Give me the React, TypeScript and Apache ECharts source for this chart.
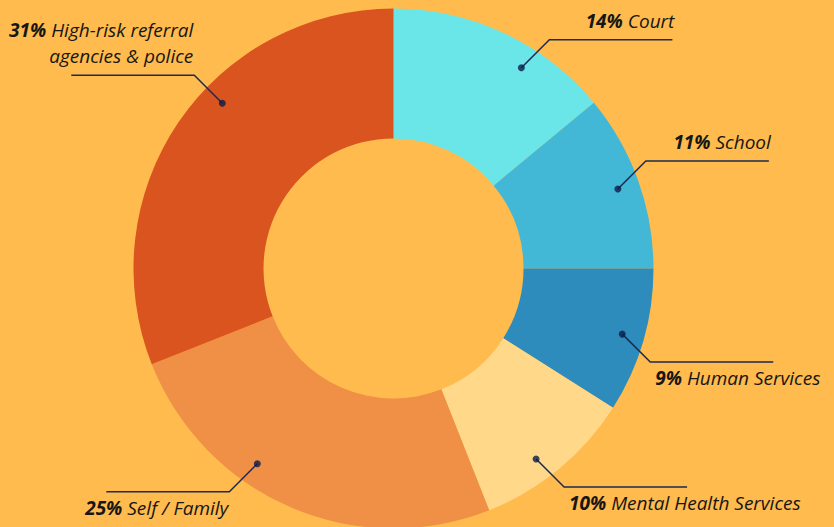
import React, { useEffect, useRef } from "react";
import * as echarts from "echarts";

// ---- data ----
const categories = [
  "Court",
  "School",
  "Human Services",
  "Mental Health Services",
  "Self / Family",
  "High-risk referral\nagencies & police",
];
const shares = [14, 11, 9, 10, 25, 31];
const colors = ["#6AE6E9", "#42B7D6", "#2E8CBD", "#FFD88A", "#F09046", "#DA541F"];

// ---- layout (annotation placement, not data) ----
const pointerNudgeDeg = [7.3, 0.3, -0.2, 2.8, 11.5, 9.8]; // shift of pointer dot from slice mid
const pointerRadius = 238;
// direction of the leader: dx sign, dy sign ; label side ; align at "end"/"bend"
const leaderDir = [
  [1, -1, "above", "end"],
  [1, -1, "above", "end"],
  [1, 1, "below", "bend"],
  [1, 1, "below", "bend"],
  [-1, 1, "below", "bend"],
  [-1, -1, "above", "bend"],
];

const CX = 393.5;
const CY = 268.5;
const R_IN = 130;
const R_OUT = 260;
const DIAG = 28;
const HORIZ = 123;
const LINE_H = 26;

function pointerAngle(i: number) {
  const total = shares.reduce((a, b) => a + b, 0);
  let cum = 0;
  for (let k = 0; k < i; k++) cum += shares[k];
  return ((cum + shares[i] / 2) / total) * 360 + pointerNudgeDeg[i];
}

function pointerXY(i: number) {
  const a = (pointerAngle(i) * Math.PI) / 180;
  return [CX + pointerRadius * Math.sin(a), CY - pointerRadius * Math.cos(a)];
}

export default function App() {
  const ref = useRef<HTMLDivElement>(null);
  useEffect(() => {
    document.body.style.margin = "0";
    const chart = echarts.init(ref.current!, null, { renderer: "svg" });
    const font = "'Open Sans', Lato, sans-serif";
    const pieData = categories.map((c, i) => ({
      name: c,
      value: shares[i],
      itemStyle: { color: colors[i] },
    }));
    chart.setOption({
      animation: false,
      backgroundColor: "#FFBB4D",
      polar: { center: [CX, CY], radius: R_OUT },
      angleAxis: {
        type: "value",
        min: 0,
        max: 360,
        startAngle: 90,
        clockwise: true,
        show: false,
      },
      radiusAxis: { type: "value", min: 0, max: R_OUT, show: false },
      series: [
        {
          type: "pie",
          center: [CX, CY],
          radius: [R_IN, R_OUT],
          startAngle: 90,
          clockwise: true,
          silent: true,
          z: 2,
          data: pieData,
          label: { show: false },
          labelLine: { show: false },
        },
        {
          type: "pie",
          center: [CX, CY],
          radius: [R_IN, R_OUT],
          startAngle: 90,
          clockwise: true,
          silent: true,
          z: 4,
          data: pieData.map((d) => ({
            ...d,
            itemStyle: { color: "rgba(0,0,0,0)" },
          })),
          label: {
            show: true,
            position: "outside",
            overflow: "none",
            fontFamily: font,
            fontSize: 19,
            color: "#161616",
            lineHeight: LINE_H,
            formatter: (p: any) => {
              const lines = String(p.name).split("\n");
              const first = `{p|${p.value}%} {n|${lines[0]}}`;
              const rest = lines.slice(1).map((l) => `{n|${l}}`);
              return [first, ...rest].join("\n");
            },
            rich: {
              p: {
                fontFamily: font,
                fontSize: 19,
                fontWeight: "bold",
                fontStyle: "italic",
                color: "#161616",
                lineHeight: LINE_H,
              },
              n: {
                fontFamily: font,
                fontSize: 19,
                fontStyle: "italic",
                color: "#161616",
                lineHeight: LINE_H,
              },
            },
          },
          labelLine: {
            show: true,
            minTurnAngle: 0,
            maxSurfaceAngle: 180,
            lineStyle: { color: "#1B2A4E", width: 1.5 },
          },
          labelLayout: (params: any) => {
            const i = params.dataIndex;
            const [dx, dy, side, anchor] = leaderDir[i] as [number, number, string, string];
            const [px, py] = pointerXY(i);
            const bx = px + dx * DIAG;
            const by = py + dy * DIAG;
            const ex = bx + dx * HORIZ;
            const ey = by;
            let x: number;
            let align: string;
            if (anchor === "end") {
              x = ex + 2;
              align = dx > 0 ? "right" : "left";
            } else {
              x = dx > 0 ? bx + 5 : bx - 1;
              align = dx > 0 ? "left" : "right";
            }
            const y = side === "above" ? by - 6 : by + 3;
            return {
              x,
              y,
              align,
              verticalAlign: side === "above" ? "bottom" : "top",
              labelLinePoints: [
                [px, py],
                [bx, by],
                [ex, ey],
              ],
              hideOverlap: false,
            };
          },
        },
        {
          type: "scatter",
          coordinateSystem: "polar",
          silent: true,
          z: 5,
          symbol: "circle",
          symbolSize: 7,
          itemStyle: { color: "#0B1D4B" },
          data: shares.map((_, i) => [pointerRadius, pointerAngle(i)]),
        },
      ],
    });
    return () => chart.dispose();
  }, []);
  return <div ref={ref} style={{ width: 834, height: 527 }} />;
}
